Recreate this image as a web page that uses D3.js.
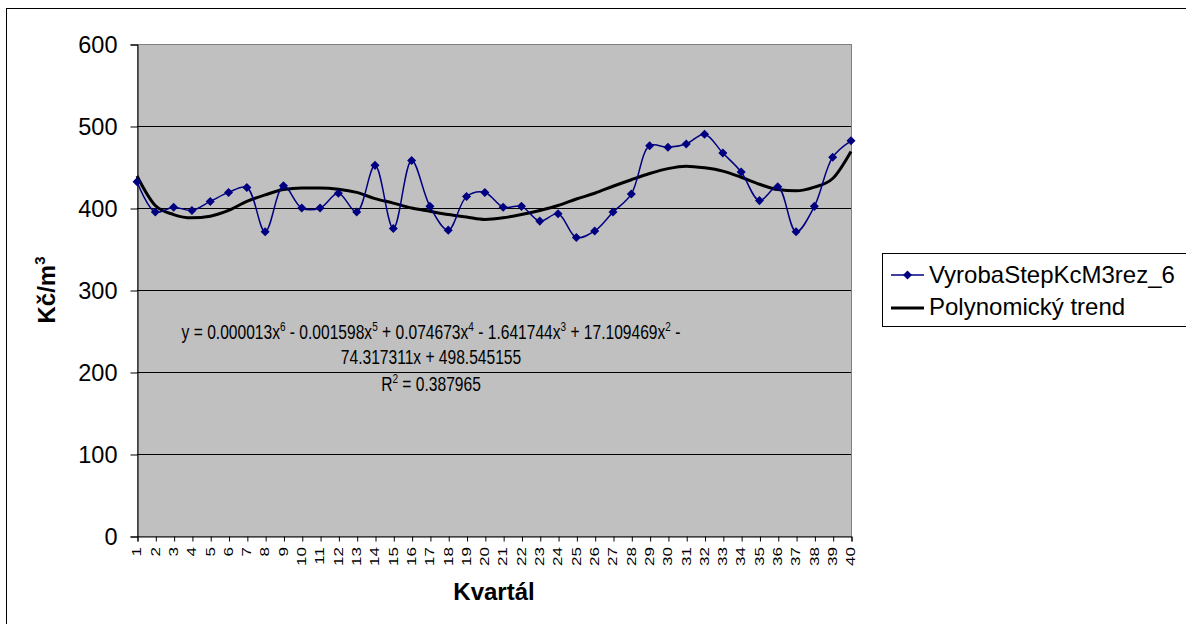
<!DOCTYPE html>
<html>
<head>
<meta charset="utf-8">
<script src="https://cdn.jsdelivr.net/npm/d3@7"></script>
<style>
  html, body { margin: 0; padding: 0; background: #fff; }
  svg { display: block; font-family: Arial, "Liberation Sans", sans-serif; }
</style>
</head>
<body>
<svg id="chart" width="1186" height="624"></svg>
<script>
// Quarter index (Kvartál)
const quarters = d3.range(1, 41);

// VyrobaStepKcM3rez_6 — cost per m3 by quarter
const values = [432, 395, 401, 397, 408, 419, 425, 371, 427, 400,
                400, 418, 395, 452, 375, 458, 402, 373, 414, 419,
                401, 402, 384, 393, 364, 372, 395, 417, 476, 474,
                478, 490, 467, 444, 409, 426, 371, 402, 462, 482];

// Polynomial (6th order) trend evaluated at each quarter
const trend = [439, 403, 392, 388, 390, 397, 408, 416, 422.5, 424.5,
               424.5, 423, 419, 411.5, 406, 400, 396, 392, 389, 386,
               388, 392, 397, 403, 411, 418, 426.5, 434.5, 442, 448,
               451, 449, 445, 437.5, 429, 422.5, 421, 425.5, 436, 469];

const yTicks = [0, 100, 200, 300, 400, 500, 600];

// Trend equation lines: [text, superscript] pieces
const eqLine1 = [["y = 0.000013x", "6"], [" - 0.001598x", "5"], [" + 0.074673x", "4"],
                 [" - 1.641744x", "3"], [" + 17.109469x", "2"], [" -", null]];
const eqLine2 = "74.317311x + 498.545155";
const rSquared = "0.387965";

const seriesName = "VyrobaStepKcM3rez_6";
const trendName = "Polynomický trend";

const svg = d3.select("#chart");

// outer chart frame
svg.append("rect")
  .attr("x", 6.5).attr("y", 8.5).attr("width", 1400).attr("height", 800)
  .attr("fill", "#fff").attr("stroke", "#000").attr("stroke-width", 1);

const x = d3.scalePoint().domain(quarters).range([137, 851]);
const y = d3.scaleLinear().domain([0, 600]).range([536, 44]);
const [x0, x1] = x.range();

// plot area
svg.append("rect")
  .attr("x", x0 + 0.5).attr("y", y(600) + 0.5)
  .attr("width", x1 - x0).attr("height", y(0) - y(600))
  .attr("fill", "#C0C0C0").attr("stroke", "#808080").attr("stroke-width", 1);

// horizontal gridlines
svg.append("g").selectAll("line")
  .data(yTicks.filter(d => d > 0 && d < 600))
  .join("line")
  .attr("x1", x0).attr("x2", x1)
  .attr("y1", d => Math.round(y(d)) + 0.5).attr("y2", d => Math.round(y(d)) + 0.5)
  .attr("stroke", "#000").attr("stroke-width", 1);

// y axis
const yAxis = svg.append("g")
  .attr("transform", `translate(${x0 + 0.5},0.5)`)
  .call(d3.axisLeft(y).tickValues(yTicks).tickSize(7).tickPadding(13).tickFormat(d3.format("d")));
yAxis.select(".domain").attr("stroke", "#000");
yAxis.selectAll(".tick line").attr("stroke", "#000");
yAxis.selectAll(".tick text")
  .attr("font-size", "23.5px").attr("fill", "#000")
  .attr("font-family", "Arial, 'Liberation Sans', sans-serif");

// x axis
const xAxis = svg.append("g")
  .attr("transform", `translate(0.5,${y(0) + 0.5})`)
  .call(d3.axisBottom(x).tickSize(5).tickFormat(() => ""));
xAxis.select(".domain").attr("stroke", "#000");
xAxis.selectAll(".tick line").attr("stroke", "#000");

// rotated quarter labels
svg.append("g").selectAll("text")
  .data(quarters)
  .join("text")
  .attr("transform", d => `translate(${x(d)},${y(0) + 11}) scale(0.72,1) rotate(-90)`)
  .attr("text-anchor", "end")
  .attr("dy", "0.35em")
  .attr("font-size", "17px")
  .attr("fill", "#000")
  .text(d => d);

// axis titles
svg.append("text")
  .attr("x", (x0 + x1) / 2).attr("y", 600)
  .attr("text-anchor", "middle")
  .attr("font-size", "24px").attr("font-weight", "bold")
  .text("Kvartál");

const yTitle = svg.append("text")
  .attr("transform", `translate(55,${(y(0) + y(600)) / 2}) rotate(-90)`)
  .attr("text-anchor", "middle")
  .attr("font-size", "24px").attr("font-weight", "bold");
yTitle.append("tspan").text("Kč/m");
yTitle.append("tspan").attr("font-size", "15px").attr("dy", "-10").text("3");

// trend line
const trendLine = d3.line()
  .x((d, i) => x(quarters[i]))
  .y(d => y(d))
  .curve(d3.curveMonotoneX);
svg.append("path")
  .datum(trend)
  .attr("d", trendLine)
  .attr("fill", "none")
  .attr("stroke", "#000")
  .attr("stroke-width", 3)
  .attr("stroke-linejoin", "round");

// data series
const seriesLine = d3.line()
  .x((d, i) => x(quarters[i]))
  .y(d => y(d))
  .curve(d3.curveCatmullRom.alpha(0.5));
svg.append("path")
  .datum(values)
  .attr("d", seriesLine)
  .attr("fill", "none")
  .attr("stroke", "#000080")
  .attr("stroke-width", 1.5);

const diamond = d3.symbol().type(d3.symbolDiamond2).size(52);
svg.append("g").selectAll("path")
  .data(values)
  .join("path")
  .attr("transform", (d, i) => `translate(${x(quarters[i])},${y(d)})`)
  .attr("d", diamond)
  .attr("fill", "#000080");

// trend equation and R²
const cx = 431;
const supShift = 8;
const eq = svg.append("g")
  .attr("transform", `translate(${cx},0) scale(0.8,1)`)
  .attr("font-size", "19.5px").attr("fill", "#000");

const l1 = eq.append("text").attr("x", 0).attr("y", 339).attr("text-anchor", "middle");
let raised = false;
eqLine1.forEach(([t, sup]) => {
  l1.append("tspan").attr("dy", raised ? supShift : 0).text(t);
  raised = false;
  if (sup) {
    l1.append("tspan").attr("font-size", "12.5px").attr("dy", -supShift).text(sup);
    raised = true;
  }
});
eq.append("text").attr("x", 0).attr("y", 364).attr("text-anchor", "middle").text(eqLine2);
const l3 = eq.append("text").attr("x", 0).attr("y", 391.5).attr("text-anchor", "middle");
l3.append("tspan").text("R");
l3.append("tspan").attr("font-size", "12.5px").attr("dy", -supShift).text("2");
l3.append("tspan").attr("dy", supShift).text(" = " + rSquared);

// legend
const lg = svg.append("g");
lg.append("rect")
  .attr("x", 882.5).attr("y", 253.5).attr("width", 400).attr("height", 73)
  .attr("fill", "#fff").attr("stroke", "#000").attr("stroke-width", 1);
lg.append("line")
  .attr("x1", 891).attr("x2", 924).attr("y1", 275).attr("y2", 275)
  .attr("stroke", "#000080").attr("stroke-width", 1.5);
lg.append("path")
  .attr("transform", "translate(907.5,275)")
  .attr("d", diamond).attr("fill", "#000080");
lg.append("text")
  .attr("x", 929).attr("y", 283)
  .attr("font-size", "24px").text(seriesName);
lg.append("line")
  .attr("x1", 891).attr("x2", 924).attr("y1", 308).attr("y2", 308)
  .attr("stroke", "#000").attr("stroke-width", 3);
lg.append("text")
  .attr("x", 929).attr("y", 315)
  .attr("font-size", "24px").text(trendName);
</script>
</body>
</html>
